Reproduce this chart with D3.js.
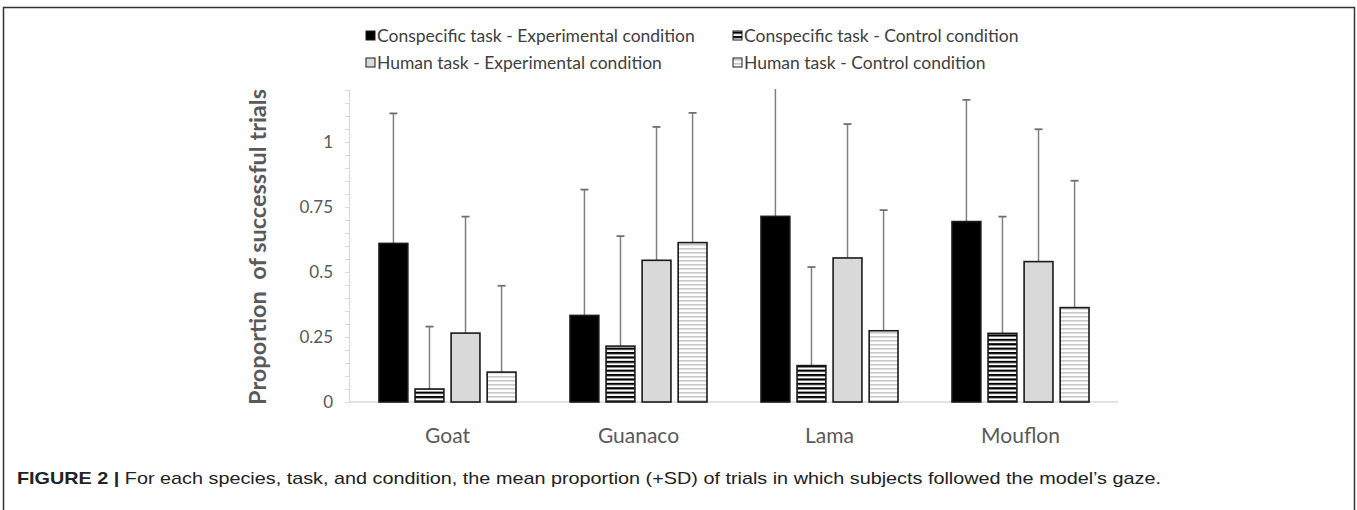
<!DOCTYPE html>
<html>
<head>
<meta charset="utf-8">
<script src="https://cdn.jsdelivr.net/npm/d3@7"></script>
<style>
  body { margin: 0; background: #fff; }
</style>
</head>
<body>
<script>
// data
var species = ["Goat", "Guanaco", "Lama", "Mouflon"];
var seriesNames = [
  "Conspecific task - Experimental condition",
  "Conspecific task - Control condition",
  "Human task - Experimental condition",
  "Human task - Control condition"
];
var conspExp  = [0.61, 0.333, 0.714, 0.694];
var conspCtrl = [0.05, 0.215, 0.14, 0.264];
var humanExp  = [0.265, 0.545, 0.554, 0.54];
var humanCtrl = [0.115, 0.613, 0.274, 0.363];
// upper end of each error bar (mean + SD)
var conspExpTop  = [1.11, 0.817, 1.25, 1.162];
var conspCtrlTop = [0.29, 0.638, 0.519, 0.713];
var humanExpTop  = [0.713, 1.058, 1.069, 1.049];
var humanCtrlTop = [0.447, 1.112, 0.738, 0.851];
var tickValues = [0, 0.25, 0.5, 0.75, 1];
var tickLabels = ["0", "0.25", "0.5", "0.75", "1"];

var W = 1357, H = 510;
var svg = d3.select("body")
  .append("svg")
    .attr("width", W)
    .attr("height", H);

// frame round the figure
svg.append("rect")
  .attr("x", 3.5).attr("y", 7.5)
  .attr("width", 1351).attr("height", 520)
  .attr("fill", "none")
  .attr("stroke", "#333")
  .attr("stroke-width", 1.5);

// patterns for the control conditions
var defs = svg.append("defs");
var p1 = defs.append("pattern")
  .attr("id", "stripesDark")
  .attr("patternUnits", "userSpaceOnUse")
  .attr("width", 8).attr("height", 4.4);
p1.append("rect").attr("width", 8).attr("height", 4.4).attr("fill", "#fff");
p1.append("rect").attr("y", 0).attr("width", 8).attr("height", 2.2).attr("fill", "#000");

var p2 = defs.append("pattern")
  .attr("id", "stripesLight")
  .attr("patternUnits", "userSpaceOnUse")
  .attr("width", 8).attr("height", 4);
p2.append("rect").attr("width", 8).attr("height", 4).attr("fill", "#fff");
p2.append("rect").attr("y", 0).attr("width", 8).attr("height", 1.6).attr("fill", "#c8c8c8");

var fills = ["#000", "url(#stripesDark)", "#d9d9d9", "url(#stripesLight)"];

var series = [
  { name: seriesNames[0], mean: conspExp,  top: conspExpTop },
  { name: seriesNames[1], mean: conspCtrl, top: conspCtrlTop },
  { name: seriesNames[2], mean: humanExp,  top: humanExpTop },
  { name: seriesNames[3], mean: humanCtrl, top: humanCtrlTop }
];

// scales
var y = d3.scaleLinear().domain([0, 1.2]).range([402, 90]);
var x0 = d3.scaleBand().domain(species).range([352, 1116]);
var x1 = d3.scaleBand().domain(d3.range(4)).range([0, 137]).paddingInner(0.2);
var groupOff = (x0.bandwidth() - 137) / 2;

// y axis
var yAxis = d3.axisLeft(y)
  .tickValues(d3.range(0, 1.2001, 0.05))
  .tickSize(4)
  .tickFormat("");
var ya = svg.append("g")
  .attr("transform", "translate(349,0)")
  .call(yAxis);
ya.select(".domain").attr("stroke", "#d9d9d9").attr("stroke-width", 1.2);
ya.selectAll(".tick line").attr("stroke", "#d9d9d9");

svg.selectAll(".ylab")
  .data(tickValues)
  .enter()
  .append("text")
    .attr("class", "ylab")
    .attr("x", 333)
    .attr("y", function (d) { return y(d); })
    .attr("dy", "0.36em")
    .attr("text-anchor", "end")
    .style("font-family", "Lato, 'Open Sans', sans-serif")
    .style("font-size", "17px")
    .style("fill", "#595959")
    .text(function (d, i) { return tickLabels[i]; });

// y title
svg.append("text")
  .attr("transform", "translate(266,247) rotate(-90)")
  .attr("text-anchor", "middle")
  .style("font-family", "Lato, 'Open Sans', sans-serif")
  .style("font-size", "23.5px")
  .style("font-weight", "bold")
  .style("fill", "#595959")
  .attr("xml:space", "preserve")
  .text("Proportion  of successful trials");

// baseline
svg.append("line")
  .attr("x1", 349).attr("x2", 1118)
  .attr("y1", y(0)).attr("y2", y(0))
  .attr("stroke", "#d9d9d9")
  .attr("stroke-width", 1.5);

// clip so the error bars stop at the top of the axis
defs.append("clipPath").attr("id", "plotClip")
  .append("rect").attr("x", 340).attr("y", 89).attr("width", 800).attr("height", 320);

var plot = svg.append("g").attr("clip-path", "url(#plotClip)");

var groups = plot.selectAll(".sp")
  .data(species)
  .enter()
  .append("g")
    .attr("class", "sp")
    .attr("transform", function (d) { return "translate(" + (x0(d) + groupOff) + ",0)"; });

var cells = groups.selectAll(".cell")
  .data(function (d, i) {
    return series.map(function (s, k) {
      return { k: k, mean: s.mean[i], top: s.top[i] };
    });
  })
  .enter()
  .append("g")
    .attr("class", "cell");

// error bars first, bars on top
cells.append("line")
  .attr("x1", function (d) { return x1(d.k) + x1.bandwidth() / 2; })
  .attr("x2", function (d) { return x1(d.k) + x1.bandwidth() / 2; })
  .attr("y1", function (d) { return y(d.mean); })
  .attr("y2", function (d) { return y(d.top); })
  .attr("stroke", "#808080")
  .attr("stroke-width", 1.5);

cells.append("line")
  .attr("x1", function (d) { return x1(d.k) + x1.bandwidth() / 2 - 4; })
  .attr("x2", function (d) { return x1(d.k) + x1.bandwidth() / 2 + 4; })
  .attr("y1", function (d) { return y(d.top); })
  .attr("y2", function (d) { return y(d.top); })
  .attr("stroke", "#707070")
  .attr("stroke-width", 1.8);

cells.append("rect")
  .attr("x", function (d) { return x1(d.k); })
  .attr("y", function (d) { return y(d.mean); })
  .attr("width", x1.bandwidth())
  .attr("height", function (d) { return y(0) - y(d.mean); })
  .style("fill", function (d) { return fills[d.k]; })
  .attr("stroke", "#1a1a1a")
  .attr("stroke-width", 1.6);

// category labels
svg.selectAll(".xlab")
  .data(species)
  .enter()
  .append("text")
    .attr("class", "xlab")
    .attr("x", function (d) { return x0(d) + x0.bandwidth() / 2; })
    .attr("y", 443)
    .attr("text-anchor", "middle")
    .style("font-family", "Lato, 'Open Sans', sans-serif")
    .style("font-size", "21px")
    .style("fill", "#595959")
    .text(function (d) { return d; });

// legend
var legPos = [[366, 36], [733, 36], [366, 63], [733, 63]];
var leg = svg.selectAll(".leg")
  .data(series)
  .enter()
  .append("g")
    .attr("class", "leg")
    .attr("transform", function (d, i) { return "translate(" + legPos[i][0] + "," + legPos[i][1] + ")"; });

leg.append("rect")
  .attr("x", 0).attr("y", -5)
  .attr("width", 9).attr("height", 9)
  .style("fill", function (d, i) { return fills[i]; })
  .attr("stroke", "#1a1a1a")
  .attr("stroke-width", 1);

leg.append("text")
  .attr("x", 11)
  .attr("dy", "0.35em")
  .style("font-family", "Lato, 'Open Sans', sans-serif")
  .style("font-size", "17.5px")
  .style("fill", "#404040")
  .text(function (d) { return d.name; });

// caption
var cap = svg.append("text")
  .attr("x", 17).attr("y", 484)
  .attr("textLength", 1144)
  .attr("lengthAdjust", "spacingAndGlyphs")
  .style("font-family", "'Liberation Sans', Arial, sans-serif")
  .style("font-size", "17px")
  .style("fill", "#222");
cap.append("tspan").style("font-weight", "bold").text("FIGURE 2 | ");
cap.append("tspan").text("For each species, task, and condition, the mean proportion (+SD) of trials in which subjects followed the model\u2019s gaze.");
</script>
</body>
</html>
